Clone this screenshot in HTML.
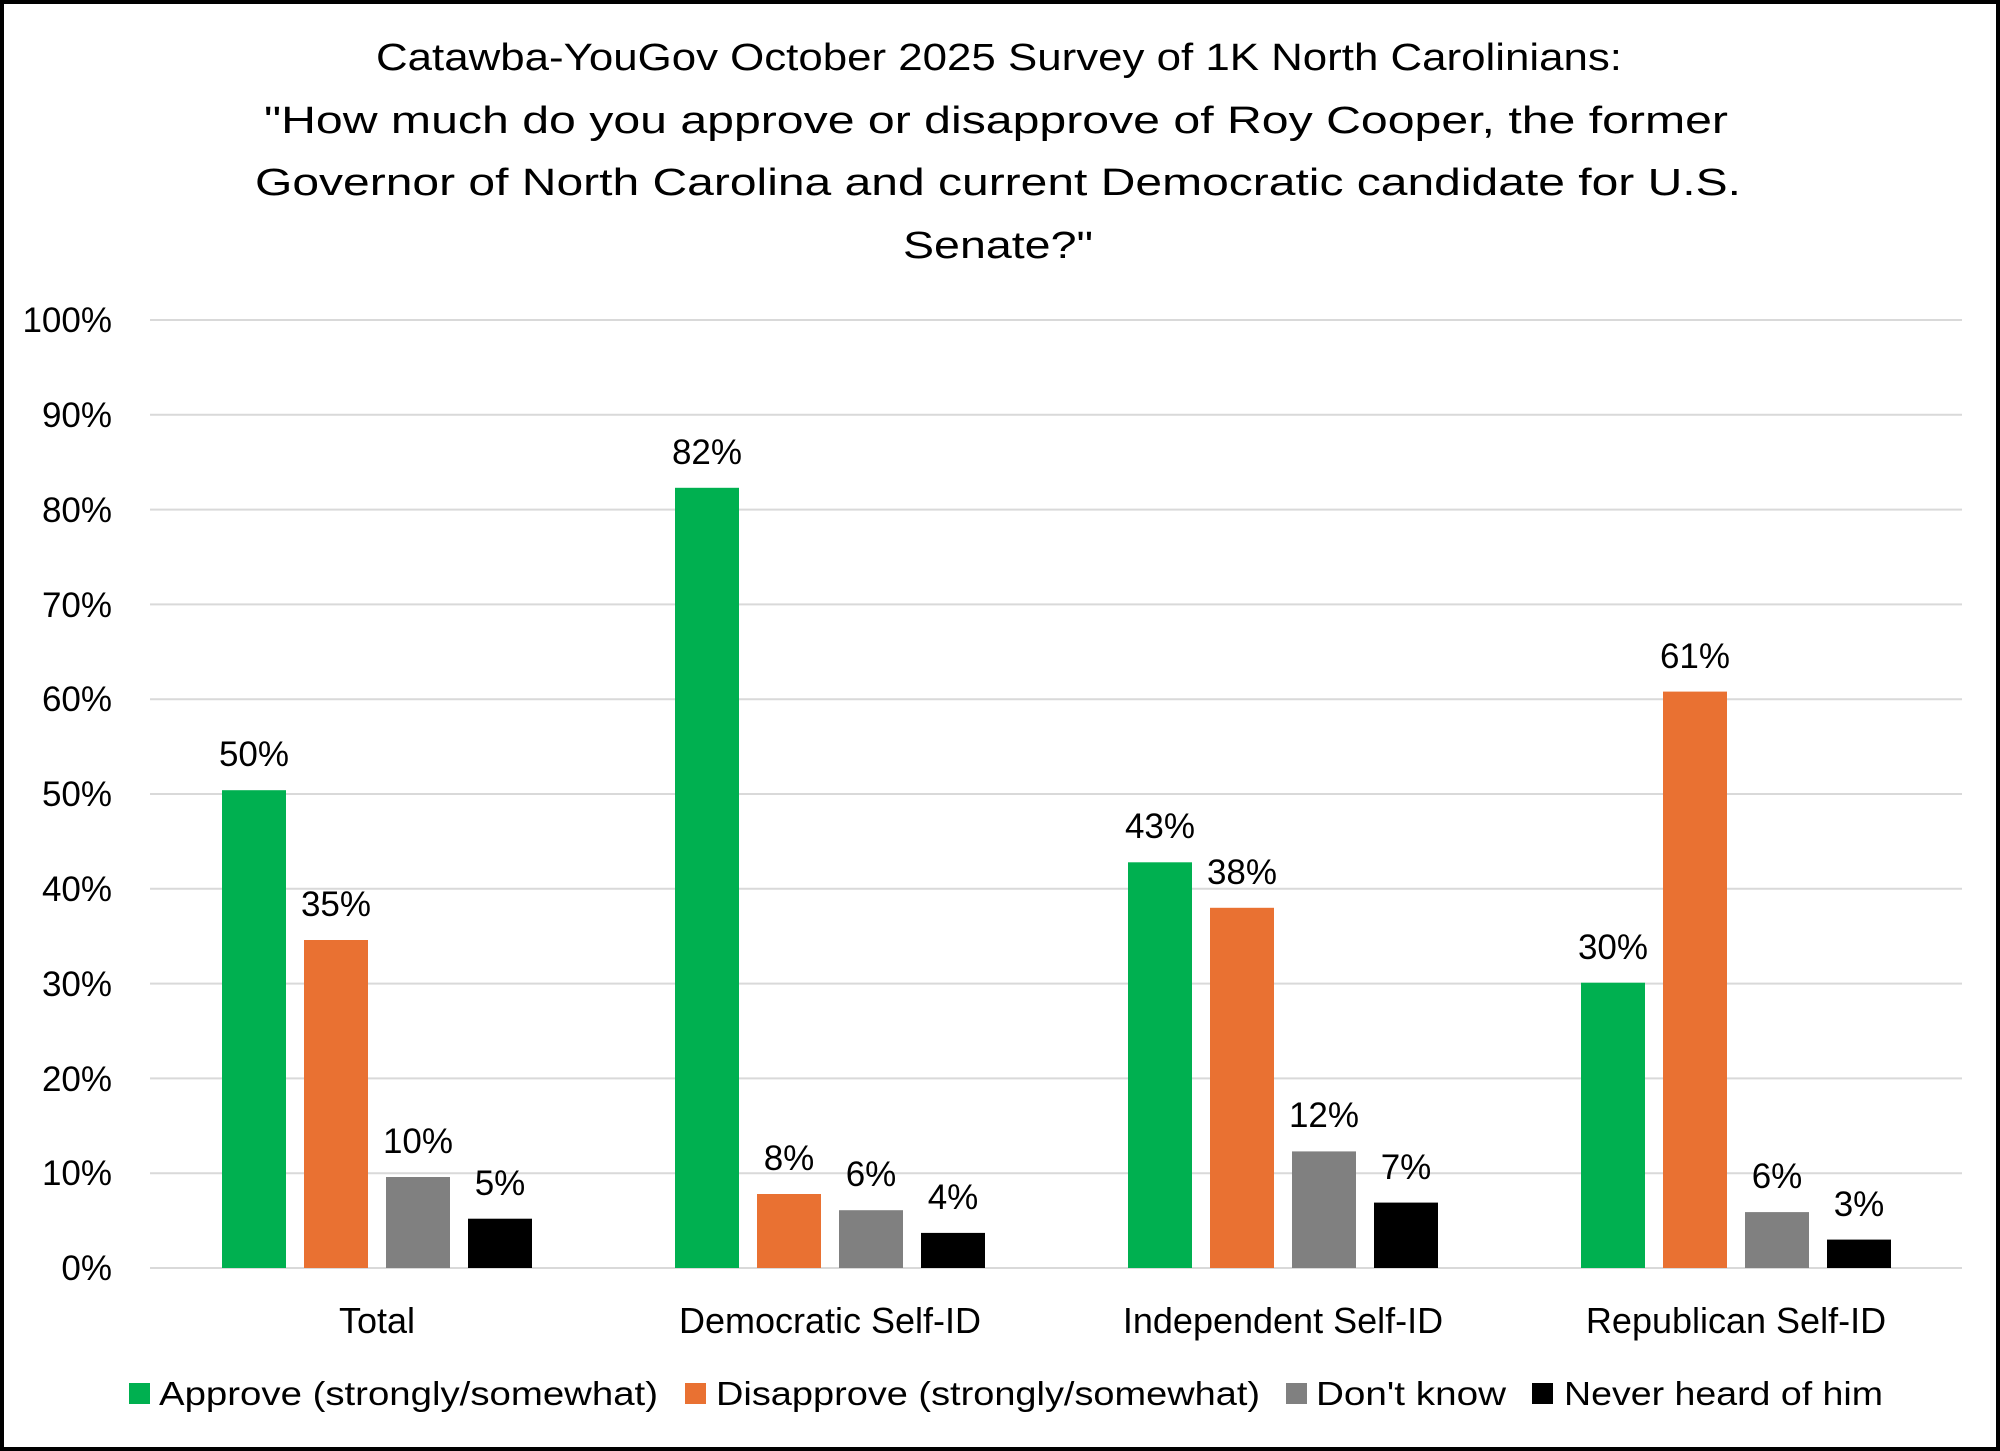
<!DOCTYPE html>
<html><head><meta charset="utf-8"><style>
html,body{margin:0;padding:0;background:#fff}
svg{display:block}
text{font-family:"Liberation Sans",sans-serif;fill:#000}
</style></head><body>
<svg width="2000" height="1451" viewBox="0 0 2000 1451" xmlns="http://www.w3.org/2000/svg">
<rect x="2" y="2" width="1996" height="1447" fill="#fff" stroke="#000" stroke-width="4"/>
<g font-size="38" text-anchor="middle">
<text x="999" y="70" textLength="1246" lengthAdjust="spacingAndGlyphs">Catawba-YouGov October 2025 Survey of 1K North Carolinians:</text>
<text x="996" y="133" textLength="1464" lengthAdjust="spacingAndGlyphs">"How much do you approve or disapprove of Roy Cooper, the former</text>
<text x="998" y="195" textLength="1486" lengthAdjust="spacingAndGlyphs">Governor of North Carolina and current Democratic candidate for U.S.</text>
<text x="998" y="258" textLength="190" lengthAdjust="spacingAndGlyphs">Senate?"</text>
</g>
<g stroke="#d9d9d9" stroke-width="2">
<line x1="150" x2="1962" y1="320" y2="320"/><line x1="150" x2="1962" y1="414.8" y2="414.8"/>
<line x1="150" x2="1962" y1="509.6" y2="509.6"/><line x1="150" x2="1962" y1="604.4" y2="604.4"/>
<line x1="150" x2="1962" y1="699.2" y2="699.2"/><line x1="150" x2="1962" y1="794" y2="794"/>
<line x1="150" x2="1962" y1="888.8" y2="888.8"/><line x1="150" x2="1962" y1="983.6" y2="983.6"/>
<line x1="150" x2="1962" y1="1078.4" y2="1078.4"/><line x1="150" x2="1962" y1="1173.2" y2="1173.2"/>
<line x1="150" x2="1962" y1="1268" y2="1268"/>
</g>
<g font-size="35" text-anchor="end">
<text x="112" y="332">100%</text><text x="112" y="427">90%</text><text x="112" y="522">80%</text>
<text x="112" y="617">70%</text><text x="112" y="711">60%</text><text x="112" y="806">50%</text>
<text x="112" y="901">40%</text><text x="112" y="996">30%</text><text x="112" y="1091">20%</text>
<text x="112" y="1185">10%</text><text x="112" y="1280">0%</text>
</g>
<g font-size="36" text-anchor="middle">
<text x="377" y="1333">Total</text>
<text x="830" y="1333">Democratic Self-ID</text>
<text x="1283" y="1333">Independent Self-ID</text>
<text x="1736" y="1333">Republican Self-ID</text>
</g>
<g font-size="33">
<rect x="129" y="1383" width="21" height="21" fill="#00b050"/>
<text x="159" y="1405" textLength="499" lengthAdjust="spacingAndGlyphs">Approve (strongly/somewhat)</text>
<rect x="685" y="1383" width="21" height="21" fill="#e97132"/>
<text x="716" y="1405" textLength="544" lengthAdjust="spacingAndGlyphs">Disapprove (strongly/somewhat)</text>
<rect x="1286" y="1383" width="21" height="21" fill="#808080"/>
<text x="1316" y="1405" textLength="190" lengthAdjust="spacingAndGlyphs">Don't know</text>
<rect x="1532" y="1383" width="21" height="21" fill="#000"/>
<text x="1564" y="1405" textLength="319" lengthAdjust="spacingAndGlyphs">Never heard of him</text>
</g>
<g font-size="35" text-anchor="middle">
<rect x="222" y="790.2" width="64" height="477.8" fill="#00b050"/><text x="254" y="766">50%</text>
<rect x="304" y="940" width="64" height="328" fill="#e97132"/><text x="336" y="916">35%</text>
<rect x="386" y="1177" width="64" height="91" fill="#808080"/><text x="418" y="1153">10%</text>
<rect x="468" y="1218.7" width="64" height="49.3" fill="#000"/><text x="500" y="1195">5%</text>
<rect x="675" y="487.8" width="64" height="780.2" fill="#00b050"/><text x="707" y="464">82%</text>
<rect x="757" y="1194" width="64" height="74" fill="#e97132"/><text x="789" y="1170">8%</text>
<rect x="839" y="1210.2" width="64" height="57.8" fill="#808080"/><text x="871" y="1186">6%</text>
<rect x="921" y="1232.9" width="64" height="35.1" fill="#000"/><text x="953" y="1209">4%</text>
<rect x="1128" y="862.3" width="64" height="405.7" fill="#00b050"/><text x="1160" y="838">43%</text>
<rect x="1210" y="907.8" width="64" height="360.2" fill="#e97132"/><text x="1242" y="884">38%</text>
<rect x="1292" y="1151.4" width="64" height="116.6" fill="#808080"/><text x="1324" y="1127">12%</text>
<rect x="1374" y="1202.6" width="64" height="65.4" fill="#000"/><text x="1406" y="1179">7%</text>
<rect x="1581" y="982.7" width="64" height="285.3" fill="#00b050"/><text x="1613" y="959">30%</text>
<rect x="1663" y="691.6" width="64" height="576.4" fill="#e97132"/><text x="1695" y="668">61%</text>
<rect x="1745" y="1212.1" width="64" height="55.9" fill="#808080"/><text x="1777" y="1188">6%</text>
<rect x="1827" y="1239.6" width="64" height="28.4" fill="#000"/><text x="1859" y="1216">3%</text>
</g>
</svg>
</body></html>
